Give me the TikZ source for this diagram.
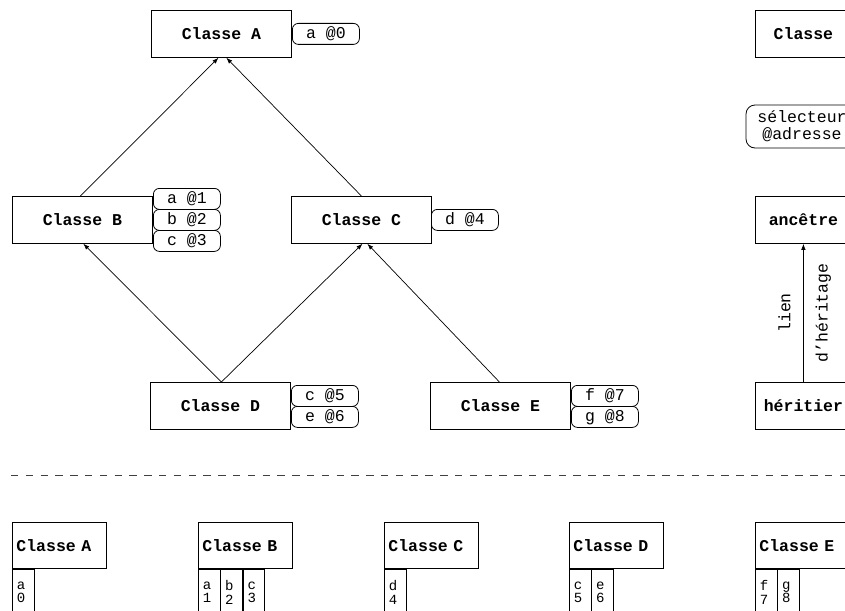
\documentclass[tikz,border=0pt]{standalone}
\usepackage{fontspec}
\setmonofont{Liberation Mono}
\usetikzlibrary{arrows.meta,calc}
\newcommand{\bigtt}{\fontsize{16.5}{17}\selectfont\ttfamily}
\newcommand{\celltt}{\fontsize{14}{13.5}\selectfont\ttfamily}
\tikzset{
  cls/.style={draw, line width=0.8pt, rectangle, minimum width=140pt, minimum height=47pt, inner sep=0pt, font=\bigtt\bfseries},
  legbox/.style={draw, line width=0.8pt, rectangle, minimum width=96pt, minimum height=47pt, inner sep=0pt, font=\bigtt\bfseries},
  lbl/.style={draw, line width=0.8pt, rounded corners=6pt, minimum width=67pt, minimum height=21pt, inner sep=0pt, font=\bigtt},
  sel/.style={draw, line width=0.8pt, rounded corners=9pt, minimum width=112pt, minimum height=43pt, inner sep=0pt, align=center, font=\bigtt},
  tbl/.style={draw, line width=0.8pt, rectangle, minimum height=46pt, text width=86pt, inner xsep=4pt, inner ysep=0pt, align=left, font=\bigtt\bfseries},
  cell/.style={draw, line width=0.8pt, rectangle, minimum height=46pt, text width=12.5pt, inner xsep=4.5pt, inner ysep=0pt, align=left, font=\celltt},
  arr/.style={-{Latex[length=6pt,width=4.5pt]}, line width=0.7pt},
  sep/.style={line width=0.8pt, dash pattern=on 7.4pt off 7.4pt, draw=black!75}
}
\begin{document}
\begin{tikzpicture}[x=1pt,y=-1pt]
\useasboundingbox (0,0) rectangle (845,610);
\clip (0,0) rectangle (845,610);

% tree
\node[cls, anchor=north west] (A) at (151,10) {Classe A};
\node[cls, anchor=north west] (B) at (12,196) {Classe B};
\node[cls, anchor=north west] (C) at (291,196) {Classe C};
\node[cls, anchor=north west] (D) at (150,382) {Classe D};
\node[cls, anchor=north west] (E) at (430,382) {Classe E};

\node[lbl, anchor=north west] (la0) at (292,23) {a @0};
\node[lbl, anchor=north west] (lb1) at (153,188) {a @1};
\node[lbl, anchor=north west] (lb2) at (153,209) {b @2};
\node[lbl, anchor=north west] (lb3) at (153,230) {c @3};
\node[lbl, anchor=north west] (lc4) at (431,209) {d @4};
\node[lbl, anchor=north west] (ld5) at (291,385) {c @5};
\node[lbl, anchor=north west] (ld6) at (291,406) {e @6};
\node[lbl, anchor=north west] (le7) at (571,385) {f @7};
\node[lbl, anchor=north west] (le8) at (571,406) {g @8};

\draw[arr] ([xshift=-2pt]B.north) -- ([xshift=-3pt]A.south);
\draw[arr] (C.north) -- ([xshift=5pt]A.south);
\draw[arr] ([xshift=1pt]D.north) -- ([xshift=1pt]B.south);
\draw[arr] ([xshift=1pt]D.north) -- ([xshift=1pt]C.south);
\draw[arr] ([xshift=-1pt]E.north) -- ([xshift=6pt]C.south);

% legend
\node[legbox, anchor=north west] (leg) at (755,10) {Classe};
\node[sel] (lsel) at (802,126.5) {sélecteur\\@adresse};
\node[legbox, anchor=north west] (anc) at (755,196) {ancêtre};
\node[legbox, anchor=north west] (her) at (755,382) {héritier};
\draw[arr] (her) -- coordinate (m) (anc);
\node[rotate=90, font=\bigtt] (lien) at ([xshift=-19pt]m) {lien};
\node[rotate=90, font=\bigtt] (dher) at ([xshift=20pt]m) {d’héritage};

% separator
\coordinate (s1) at (11,475);
\coordinate (s2) at (860,475);
\draw[sep] (s1) -- (s2);

% tables
\node[tbl, anchor=north west] (tA) at (12,522) {Classe A};
\node[tbl, anchor=north west] (tB) at (198,522) {Classe B};
\node[tbl, anchor=north west] (tC) at (384,522) {Classe C};
\node[tbl, anchor=north west] (tD) at (569,522) {Classe D};
\node[tbl, anchor=north west] (tE) at (755,522) {Classe E};

\node[cell, anchor=north west] (cA1) at (tA.south west) {a\\0};
\node[cell, anchor=north west] (cB1) at (tB.south west) {a\\1};
\node[cell, anchor=north west] (cB2) at (cB1.north east) {b\\2};
\node[cell, anchor=north west] (cB3) at (cB2.north east) {c\\3};
\node[cell, anchor=north west] (cC1) at (tC.south west) {d\\4};
\node[cell, anchor=north west] (cD1) at (tD.south west) {c\\5};
\node[cell, anchor=north west] (cD2) at (cD1.north east) {e\\6};
\node[cell, anchor=north west] (cE1) at (tE.south west) {f\\7};
\node[cell, anchor=north west] (cE2) at (cE1.north east) {g\\8};
\end{tikzpicture}
\end{document}
